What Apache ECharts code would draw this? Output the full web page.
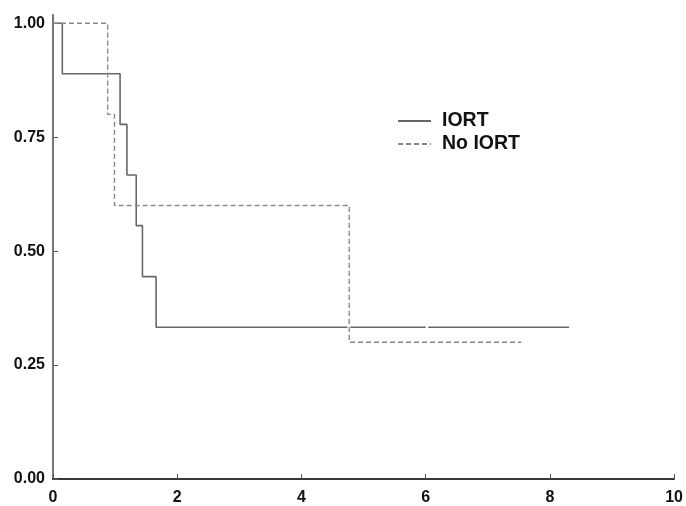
<!DOCTYPE html>
<html>
<head>
<meta charset="utf-8">
<script src="https://cdn.jsdelivr.net/npm/echarts@6/dist/echarts.min.js"></script>
<style>html,body{margin:0;padding:0;background:#fff}#c{width:686px;height:506px}</style>
</head>
<body>
<div id="c"></div>
<script>
// Kaplan-Meier step data (time, survival); null = break at censoring mark
const seriesNames = ['IORT', 'No IORT'];
const iortTime = [0, 0.15, 1.08, 1.19, 1.34, 1.44, 1.66, 4.70, 4.74, 4.79, 5.95, 6.00, 6.04, 8.31];
const iortSurv = [1.0, 0.889, 0.778, 0.667, 0.556, 0.444, 0.333, 0.333, null, 0.333, 0.333, null, 0.333, 0.333];
const noIortTime = [0, 0.88, 0.99, 4.77, 7.54];
const noIortSurv = [1.0, 0.8, 0.6, 0.3, 0.3];
const xTicks = [0, 2, 4, 6, 8, 10];
const yTicks = [0, 0.25, 0.5, 0.75, 1.0];

function pairs(t, s) {
  return t.map((x, i) => s[i] === null ? [x, '-'] : [x, s[i]]);
}

const font = 'Liberation Sans, Arial, sans-serif';
const chart = echarts.init(document.getElementById('c'), null, {renderer: 'canvas'});
chart.setOption({
  backgroundColor: '#fff',
  animation: false,
  grid: {left: 53, right: 9, top: 15, bottom: 26, containLabel: false},
  legend: {
    left: 397, top: 111, orient: 'vertical', padding: 0,
    itemWidth: 33, itemHeight: 14, itemGap: 3,
    itemStyle: {opacity: 0},
    textStyle: {fontFamily: font, fontWeight: 'bold', fontSize: 19.5, color: '#111', lineHeight: 20, padding: [0, 0, 0, 6]},
    data: seriesNames
  },
  xAxis: [{
    type: 'value', min: xTicks[0], max: xTicks[xTicks.length - 1], interval: 2,
    axisLine: {lineStyle: {color: '#555', width: 1.5}},
    axisTick: {inside: true, length: 5, lineStyle: {color: '#555'}},
    axisLabel: {fontFamily: font, fontWeight: 'bold', fontSize: 16, color: '#111', margin: 11},
    splitLine: {show: false}
  }, {
    type: 'value', position: 'top', min: 0, max: 10,
    axisLine: {show: true, lineStyle: {color: '#222', width: 1.5}},
    axisTick: {show: false}, axisLabel: {show: false}, splitLine: {show: false}
  }],
  yAxis: [{
    type: 'value', min: 0, max: 1.018, interval: 0.25,
    axisLine: {show: true, lineStyle: {color: '#555', width: 1.5}},
    axisTick: {inside: true, length: 5, lineStyle: {color: '#555'}},
    axisLabel: {fontFamily: font, fontWeight: 'bold', fontSize: 16, color: '#111', margin: 8,
      showMaxLabel: false,
      formatter: v => yTicks.some(t => Math.abs(t - v) < 1e-6) ? v.toFixed(2) : ''},
    splitLine: {show: false}
  }, {
    type: 'value', position: 'right', min: 0, max: 1.018,
    axisLine: {show: true, lineStyle: {color: '#777', width: 2}},
    axisTick: {show: false}, axisLabel: {show: false}, splitLine: {show: false}
  }],
  series: [{
    name: seriesNames[0], type: 'line', step: 'end', symbol: 'none',
    connectNulls: false,
    lineStyle: {color: '#666', width: 1.6, type: 'solid'},
    itemStyle: {color: '#666'},
    data: pairs(iortTime, iortSurv)
  }, {
    name: seriesNames[1], type: 'line', step: 'end', symbol: 'none',
    lineStyle: {color: '#888', width: 1.4, type: [5, 3]},
    itemStyle: {color: '#888'},
    data: pairs(noIortTime, noIortSurv)
  }]
});
</script>
</body>
</html>
